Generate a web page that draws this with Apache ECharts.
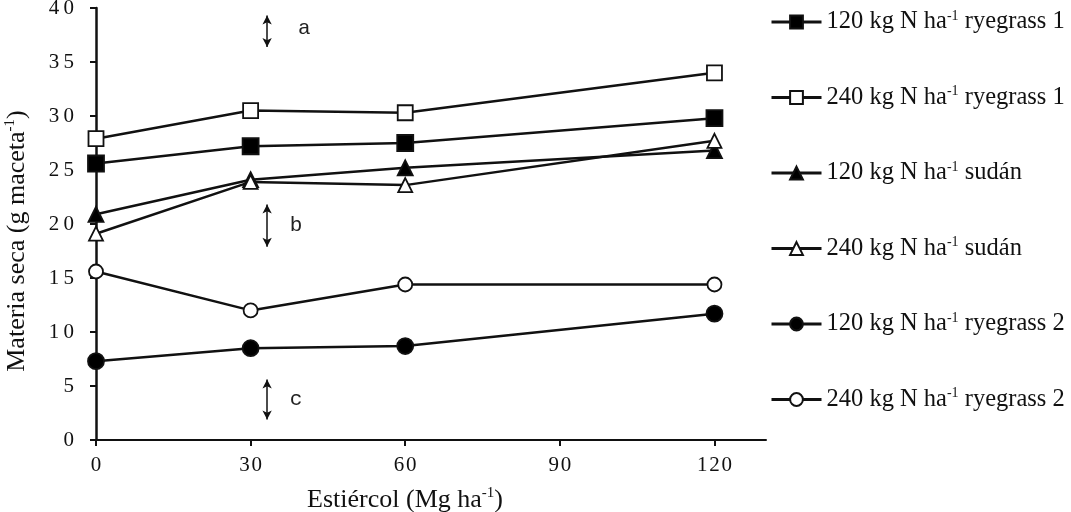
<!DOCTYPE html>
<html>
<head>
<meta charset="utf-8">
<script src="https://cdn.jsdelivr.net/npm/echarts@6/dist/echarts.min.js"></script>
<style>
  html, body { margin: 0; padding: 0; background: #fff; }
  #chart { width: 1071px; height: 512px; }
</style>
</head>
<body>
<div id="chart"></div>
<script>
// dosis de estiércol (Mg ha-1)
const estiercol = [0, 30, 60, 120]
const xTicks = [0, 30, 60, 90, 120]

const n120Rye1 = [25.6, 27.2, 27.5, 29.8]
const n240Rye1 = [27.9, 30.5, 30.3, 34.0]
const n120Sudan = [20.9, 24.1, 25.2, 26.8]
const n240Sudan = [19.1, 23.9, 23.6, 27.7]
const n120Rye2 = [7.3, 8.5, 8.7, 11.7]
const n240Rye2 = [15.6, 12.0, 14.4, 14.4]

// letras de significancia: [x, yBajo, yAlto, letra]
const letras = [
  [33.2, 36.4, 39.3, 'a'],
  [33.2, 17.9, 21.8, 'b'],
  [33.2, 1.9, 5.6, 'c'],
]

const FONT = 'Liberation Serif'

const seriesDefs = [
  {name: '120 kg N ha-1 ryegrass 1', data: n120Rye1, symbol: 'rect', size: 16, fill: '#000'},
  {name: '240 kg N ha-1 ryegrass 1', data: n240Rye1, symbol: 'rect', size: 15, fill: '#fff'},
  {name: '120 kg N ha-1 sudán', data: n120Sudan, symbol: 'triangle', size: 15, fill: '#000'},
  {name: '240 kg N ha-1 sudán', data: n240Sudan, symbol: 'triangle', size: 14, fill: '#fff'},
  {name: '120 kg N ha-1 ryegrass 2', data: n120Rye2, symbol: 'circle', size: 16, fill: '#000'},
  {name: '240 kg N ha-1 ryegrass 2', data: n240Rye2, symbol: 'circle', size: 14, fill: '#fff'},
]

const series = seriesDefs.map(s => ({
  name: s.name,
  type: 'line',
  data: estiercol.map((x, i) => [x, s.data[i]]),
  symbol: s.symbol,
  symbolSize: s.size,
  lineStyle: {color: '#111', width: 2.5},
  itemStyle: {color: s.fill, borderColor: '#111', borderWidth: 1.8},
  z: 3,
}))

// flechas de las letras
series.push({
  type: 'line',
  data: [],
  silent: true,
  markLine: {
    silent: true,
    symbol: ['arrow', 'arrow'],
    symbolSize: [7, 9],
    lineStyle: {color: '#111', width: 1.5, type: 'solid'},
    label: {show: false},
    data: letras.map(l => [{coord: [l[0], l[1]]}, {coord: [l[0], l[2]]}]),
  },
  markPoint: {
    silent: true,
    symbol: 'circle',
    symbolSize: 0,
    label: {
      show: true,
      formatter: p => p.name,
      fontFamily: 'Liberation Mono',
      fontSize: 21,
      color: '#222',
      position: 'inside',
    },
    data: letras.map((l, i) => ({
      name: l[3],
      coord: [l[0] + (i === 0 ? 7.2 : 5.6), (l[1] + l[2]) / 2 + (i === 0 ? 0.3 : 0)],
    })),
  },
})

function richText(size) {
  return {
    n: {fontFamily: FONT, fontSize: size, color: '#111'},
    s: {fontFamily: FONT, fontSize: Math.round(size * 0.56), color: '#111', verticalAlign: 'top', padding: [0, 0, Math.round(size * 0.5), 0]},
  }
}

const chart = echarts.init(document.getElementById('chart'))

chart.setOption({
  animation: false,
  backgroundColor: '#fff',
  grid: {left: 96, right: 305, top: 8, bottom: 72, outerBoundsMode: 'none', containLabel: false},
  legend: {
    orient: 'vertical',
    left: 765,
    top: 4,
    itemWidth: 50,
    itemHeight: 16,
    itemGap: 50,
    data: seriesDefs.map(s => s.name),
    lineStyle: {width: 3, color: '#111'},
    formatter: name => {
      const parts = name.split('ha-1')
      return '{n|' + parts[0] + 'ha}{s|-1}{n|' + parts[1] + '}'
    },
    textStyle: {rich: richText(24.5)},
  },
  xAxis: {
    type: 'value',
    min: 0,
    max: 130,
    interval: 30,
    name: '{n|Estiércol (Mg ha}{s|-1}{n|)}',
    nameLocation: 'middle',
    nameGap: 46,
    nameTextStyle: {rich: richText(26), padding: [0, 52, 0, 0]},
    splitLine: {show: false},
    axisLine: {lineStyle: {color: '#111', width: 2}},
    axisTick: {show: true, length: 6, lineStyle: {color: '#111', width: 2}, customValues: xTicks},
    axisLabel: {
      customValues: xTicks,
      fontFamily: FONT,
      fontSize: 21,
      color: '#111',
      margin: 15,
      formatter: v => String(v).split('').join('\u200A'),
    },
  },
  yAxis: {
    type: 'value',
    min: 0,
    max: 40,
    interval: 5,
    name: '{n|Materia seca (g maceta}{s|-1}{n|)}',
    nameLocation: 'middle',
    nameGap: 65,
    nameRotate: 90,
    nameTextStyle: {rich: richText(26), padding: [0, 34, 0, 0]},
    splitLine: {show: false},
    axisLine: {show: true, lineStyle: {color: '#111', width: 2.5}},
    axisTick: {show: true, length: 6, lineStyle: {color: '#111', width: 2}},
    axisLabel: {
      fontFamily: FONT,
      fontSize: 21,
      color: '#111',
      margin: 22,
      formatter: v => String(v).split('').join('\u2009'),
    },
  },
  series,
})
</script>
</body>
</html>
